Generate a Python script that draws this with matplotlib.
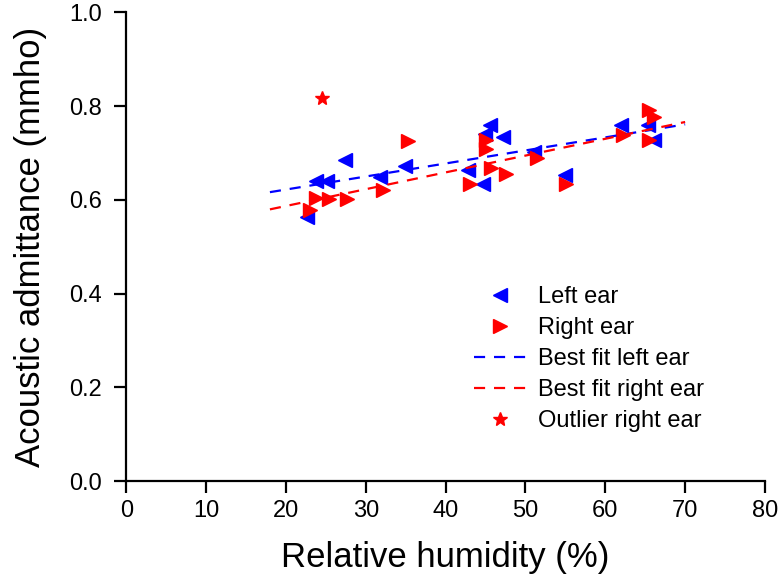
import numpy as np
import matplotlib
matplotlib.use("Agg")
import matplotlib.pyplot as plt

plt.rcParams['font.family'] = ['Liberation Sans', 'DejaVu Sans']

# Left ear readings (humidity %, admittance mmho)
left_rh = [22.6, 23.8, 25.1, 27.4, 31.8, 34.9, 42.8, 44.7, 44.9, 45.5, 47.2,
           51.1, 54.9, 62.0, 65.3, 66.1]
left_adm = [0.564, 0.640, 0.640, 0.686, 0.649, 0.672, 0.663, 0.633, 0.741, 0.759,
            0.734, 0.702, 0.652, 0.759, 0.759, 0.727]

# Right ear readings
right_rh = [23.0, 23.8, 25.4, 27.6, 32.2, 35.3, 43.0, 45.1, 45.1, 45.7, 47.6,
            51.5, 55.1, 62.2, 65.5, 66.1, 65.5]
right_adm = [0.579, 0.603, 0.601, 0.601, 0.622, 0.726, 0.633, 0.727, 0.709, 0.667,
             0.656, 0.690, 0.633, 0.738, 0.791, 0.777, 0.727]

# Outlier (right ear)
outlier_rh = [24.5]
outlier_adm = [0.818]

fit_range = [18, 70]

fig = plt.figure(figsize=(7.79, 5.86), dpi=100)
ax = fig.add_axes([0.162, 0.179, 0.82, 0.80])

ax.plot(left_rh, left_adm, linestyle='none', marker='<', color='#0000ff',
        markersize=10.5, label='Left ear')
ax.plot(right_rh, right_adm, linestyle='none', marker='>', color='#ff0000',
        markersize=10.5, label='Right ear')

# best fit lines
xf = np.array(fit_range, dtype=float)
kl = np.polyfit(left_rh, left_adm, 1)
kr = np.polyfit(right_rh, right_adm, 1)
ax.plot(xf, np.polyval(kl, xf), '--', color='#0000ff', lw=1.6, dashes=(5, 4),
        label='Best fit left ear')
ax.plot(xf, np.polyval(kr, xf), '--', color='#ff0000', lw=1.6, dashes=(5, 4),
        label='Best fit right ear')

ax.plot(outlier_rh, outlier_adm, linestyle='none', marker='*', color='#ff0000',
        markersize=10.5, label='Outlier right ear')

ax.set_xlim(0, 80)
ax.set_ylim(0, 1.0)
ax.set_xticks(np.arange(0, 81, 10))
ax.set_yticks(np.arange(0, 1.01, 0.2))
ax.set_yticklabels(['%.1f' % v for v in np.arange(0, 1.01, 0.2)])

for s in ['top', 'right']:
    ax.spines[s].set_visible(False)
for s in ['left', 'bottom']:
    ax.spines[s].set_linewidth(1.6)
ax.tick_params(direction='out', length=8.5, width=1.6, labelsize=17, pad=5)
ax.tick_params(axis='y', pad=9)

ax.set_xlabel('Relative humidity (%)', fontsize=25, labelpad=14)
ax.set_ylabel('Acoustic admittance (mmho)', fontsize=25, labelpad=16)

ax.legend(loc='upper left', bbox_to_anchor=(474 / 779, 1 - 286 / 586),
          bbox_transform=fig.transFigure, frameon=False, fontsize=17,
          handlelength=2.2, handletextpad=0.5, labelspacing=0.38,
          borderaxespad=0, borderpad=0)

plt.savefig('out.png', dpi=100)
